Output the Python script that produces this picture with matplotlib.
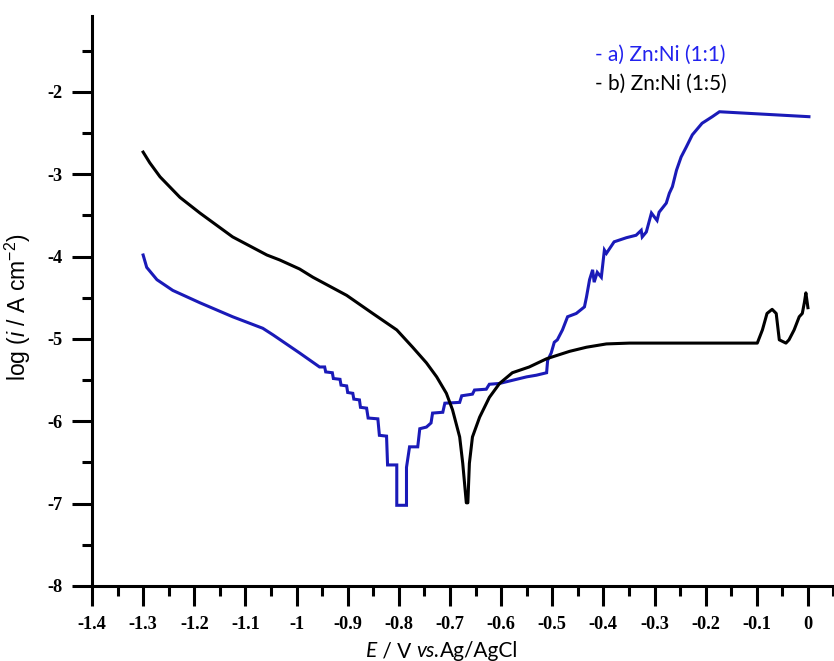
import matplotlib
matplotlib.use("Agg")
import matplotlib.pyplot as plt
from matplotlib.ticker import MultipleLocator, FuncFormatter
from matplotlib.offsetbox import TextArea, HPacker, AnchoredOffsetbox

plt.rcParams['axes.unicode_minus'] = False
plt.rcParams['mathtext.fontset'] = 'custom'
plt.rcParams['mathtext.rm'] = 'Liberation Sans'
plt.rcParams['mathtext.it'] = 'Liberation Sans:italic'

# Tafel curves, potential (V vs Ag/AgCl) and log current density
E_a = [-1.300, -1.293, -1.273, -1.242, -1.189, -1.125, -1.066, -1.046,
       -0.994, -0.955, -0.945, -0.943, -0.930, -0.928, -0.915, -0.913,
       -0.902, -0.900, -0.890, -0.888, -0.877, -0.875, -0.863, -0.860,
       -0.841, -0.838, -0.824, -0.822, -0.804, -0.804, -0.785, -0.785,
       -0.779, -0.763, -0.759, -0.746, -0.737, -0.734, -0.714, -0.710,
       -0.681, -0.677, -0.656, -0.652, -0.629, -0.623, -0.603, -0.570,
       -0.550, -0.531, -0.511, -0.509, -0.502, -0.496, -0.490, -0.480,
       -0.470, -0.453, -0.437, -0.433, -0.427, -0.421, -0.418, -0.412,
       -0.404, -0.398, -0.394, -0.379, -0.355, -0.336, -0.326, -0.324,
       -0.316, -0.306, -0.300, -0.295, -0.291, -0.277, -0.271, -0.265,
       -0.257, -0.248, -0.238, -0.226, -0.207, -0.187, -0.173, 0.002]
logi_a = [-3.98, -4.13, -4.28, -4.41, -4.56, -4.73, -4.87, -4.95,
          -5.17, -5.34, -5.34, -5.40, -5.41, -5.48, -5.49, -5.56,
          -5.57, -5.65, -5.66, -5.73, -5.74, -5.83, -5.84, -5.96,
          -5.97, -6.17, -6.18, -6.53, -6.53, -7.02, -7.02, -6.56,
          -6.31, -6.31, -6.09, -6.07, -6.02, -5.90, -5.89, -5.78,
          -5.77, -5.69, -5.67, -5.62, -5.61, -5.55, -5.54, -5.49,
          -5.46, -5.44, -5.41, -5.26, -5.17, -5.04, -5.01, -4.89,
          -4.73, -4.69, -4.61, -4.49, -4.28, -4.16, -4.31, -4.19,
          -4.25, -3.92, -3.96, -3.82, -3.77, -3.74, -3.68, -3.76,
          -3.70, -3.47, -3.52, -3.56, -3.46, -3.35, -3.23, -3.15,
          -2.95, -2.79, -2.67, -2.52, -2.38, -2.30, -2.24, -2.30]

E_b = [-1.300, -1.287, -1.267, -1.228, -1.189, -1.125, -1.058, -1.033,
       -0.994, -0.968, -0.902, -0.851, -0.804, -0.773, -0.746, -0.726,
       -0.707, -0.695, -0.681, -0.675, -0.668, -0.665, -0.662, -0.656,
       -0.642, -0.623, -0.603, -0.578, -0.545, -0.511, -0.466, -0.433,
       -0.394, -0.349, -0.099, -0.089, -0.080, -0.070, -0.062, -0.056,
       -0.043, -0.037, -0.027, -0.017, -0.011, -0.007, -0.004, 0.000]
logi_b = [-2.73, -2.86, -3.03, -3.28, -3.47, -3.76, -3.98, -4.04,
          -4.15, -4.25, -4.47, -4.69, -4.89, -5.10, -5.29, -5.46,
          -5.66, -5.86, -6.19, -6.51, -6.99, -6.99, -6.51, -6.19,
          -5.95, -5.71, -5.54, -5.41, -5.34, -5.24, -5.15, -5.10,
          -5.06, -5.05, -5.05, -4.89, -4.69, -4.64, -4.69, -5.01,
          -5.05, -5.01, -4.89, -4.73, -4.69, -4.56, -4.44, -4.62]

labels = ['- a) Zn:Ni (1:1)', '- b) Zn:Ni (1:5)']
line_colors = ['#1a1ab8', '#000000']
text_colors = ['#2222ee', '#000000']

fig = plt.figure(figsize=(8.34, 6.61), dpi=100)
ax = fig.add_axes([0.1103, 0.1135, 0.8897, 0.8623])

ax.plot(E_a, logi_a, color=line_colors[0], lw=2.2, solid_joinstyle='miter')
ax.plot(E_b, logi_b, color=line_colors[1], lw=2.2)

ax.set_xlim(-1.4, 0.051)
ax.set_ylim(-8, -1.077)

for side in ['top', 'right']:
    ax.spines[side].set_visible(False)
for side in ['left', 'bottom']:
    ax.spines[side].set_linewidth(2.2)

ax.xaxis.set_major_locator(MultipleLocator(0.1))
ax.xaxis.set_minor_locator(MultipleLocator(0.05))
ax.yaxis.set_major_locator(MultipleLocator(1))
ax.yaxis.set_minor_locator(MultipleLocator(0.5))


def fmt(v, pos):
    if abs(v) < 1e-9:
        return '0'
    return ('%.1f' % v).rstrip('0').rstrip('.')


ax.xaxis.set_major_formatter(FuncFormatter(fmt))
ax.yaxis.set_major_formatter(FuncFormatter(fmt))

ax.tick_params(which='major', direction='out', length=14.4, width=2.2)
ax.tick_params(which='minor', direction='out', length=7.5, width=2.2)
ax.tick_params(axis='x', which='major', pad=7)
ax.tick_params(axis='y', which='major', pad=6.5)
for lab in ax.get_xticklabels() + ax.get_yticklabels():
    lab.set_fontfamily('Liberation Serif')
    lab.set_fontweight('bold')
    lab.set_fontsize(13.2)

ax.set_ylabel('log ($\\mathit{i}$ / A cm$^{\\mathregular{-2}}$)',
              fontfamily='Liberation Sans', fontsize=16.5)
ax.yaxis.set_label_coords(-0.080, 0.49)

# x label: italic E and vs., upright rest
xparts = [('E', 'italic'), (' / V ', 'normal'), ('vs.', 'italic'), ('Ag/AgCl', 'normal')]
boxes = [TextArea(t, textprops=dict(fontfamily='Lato', fontstyle=s, fontsize=15))
         for t, s in xparts]
pack = HPacker(children=boxes, align='baseline', pad=0, sep=0)
xlab = AnchoredOffsetbox(loc='lower center', child=pack, frameon=False, pad=0,
                         borderpad=0, bbox_to_anchor=(442 / 834, 0),
                         bbox_transform=fig.transFigure)
fig.add_artist(xlab)

fig.text(595 / 834, 1 - 55 / 661, labels[0], color=text_colors[0],
         fontfamily='Lato', fontsize=15, va='center')
fig.text(595 / 834, 1 - 84 / 661, labels[1], color=text_colors[1],
         fontfamily='Lato', fontsize=15, va='center')

fig.savefig('out.png', dpi=100)
